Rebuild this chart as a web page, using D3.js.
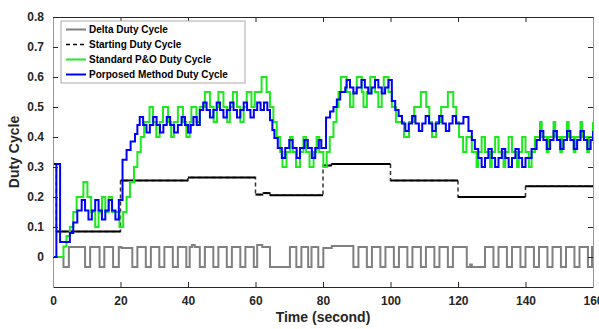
<!DOCTYPE html>
<html>
<head>
<meta charset="utf-8">
<script src="https://cdn.jsdelivr.net/npm/d3@7"></script>
<style>
  body { margin: 0; background: #fff; }
  svg { font-family: "Liberation Sans", Arial, sans-serif; font-weight: bold; }
</style>
</head>
<body>
<div class="chart"></div>
<script>
// -----------------------------------------------------------------------
// Data (stairs: each value holds from its time until the next time)
// -----------------------------------------------------------------------

const xTicks = [0, 20, 40, 60, 80, 100, 120, 140, 160];
const yTicks = [0, 0.1, 0.2, 0.3, 0.4, 0.5, 0.6, 0.7, 0.8];
const legendLabels = ["Delta Duty Cycle", "Starting Duty Cycle", "Standard P&O Duty Cycle", "Porposed Method Duty Cycle"];

// starting duty cycle
const startT = [0, 1, 20, 40, 60, 62.3, 64.3, 80, 82.5, 100, 120, 140, 160];
const startV = [0.31, 0.085, 0.255, 0.265, 0.208, 0.213, 0.206, 0.305, 0.31, 0.255, 0.2, 0.236, 0.236];

// delta duty cycle
const deltaT = [0, 3.1, 4.7, 9.5, 11, 13.8, 15.2, 17.8, 19.5, 20.3, 23.5, 25, 27.5, 29, 31.5, 33, 35.5, 37, 39.5, 40.5, 41.2, 42, 43.5, 45, 47.5, 49, 51.5, 53, 55.5, 57, 59.5, 60.5, 62, 64.3, 70.2, 72.1, 73.6, 75.6, 76.6, 78.6, 80.1, 82.6, 89, 90.5, 93, 94.5, 97, 98.5, 101, 102.5, 105, 106.5, 109, 110.5, 113, 114.5, 117, 118.5, 122.6, 123.6, 124.1, 128, 130.5, 132, 134.5, 136, 138.5, 140, 142.5, 144, 146.5, 148, 150.5, 152, 154.5, 156, 158.5, 159.7, 160];
const deltaV = [0, -0.033, 0.033, -0.033, 0.033, -0.033, 0.033, -0.033, 0.033, 0.03, -0.033, 0.033, -0.033, 0.033, -0.033, 0.033, -0.033, 0.033, -0.033, 0.033, 0.04, 0.033, -0.033, 0.033, -0.033, 0.033, -0.033, 0.033, -0.033, 0.033, -0.033, 0.04, 0.033, -0.033, 0.033, -0.033, 0.033, -0.033, 0.033, -0.033, 0.03, 0.037, -0.033, 0.033, -0.033, 0.033, -0.033, 0.033, -0.033, 0.033, -0.033, 0.033, -0.033, 0.033, -0.033, 0.033, -0.033, 0.033, -0.033, -0.025, -0.033, 0.033, -0.033, 0.033, -0.033, 0.033, -0.033, 0.033, -0.033, 0.033, -0.033, 0.033, -0.033, 0.033, -0.033, 0.033, -0.033, 0.033, 0.033];

// standard P&O duty cycle
const poT = [0, 3.1, 4, 5, 6, 7, 9, 10.2, 11.3, 12.5, 13.5, 14.5, 15.5, 16.5, 17.5, 18.5, 19.7, 20.8, 21.8, 22.8, 24, 25, 26, 27, 28.6, 29.6, 30.6, 31.6, 32.6, 34.1, 35, 35.8, 37, 38.5, 39.5, 40.5, 41, 42.5, 43.5, 45, 46.5, 47.6, 48.6, 49, 50.5, 51.6, 52.4, 53.3, 54.5, 55.5, 56.5, 57.4, 58.8, 59.8, 61.8, 63.3, 64.3, 65.3, 66.3, 67.3, 68, 69.2, 70.2, 71, 72, 73.2, 74.2, 75, 76, 77.2, 78.1, 78.9, 80.1, 81.1, 82, 83.1, 84, 84.6, 85.3, 87, 88, 89, 90, 91.5, 92, 93, 94, 95.4, 96.4, 97.4, 98, 99.4, 100.4, 101.6, 102.8, 104, 105.5, 107, 109, 110.6, 111.5, 112.3, 113.5, 115, 117, 118.6, 119.5, 120.3, 121.5, 122.5, 124.1, 125.5, 126, 127, 128, 129.5, 130, 131, 132, 133.5, 134, 135, 136, 137.5, 138, 139, 140, 141, 141.8, 142.8, 144.3, 144.8, 146.3, 146.8, 148.3, 148.8, 150.3, 150.8, 152.3, 152.8, 154.3, 154.8, 156.3, 156.8, 158.3, 158.8, 160];
const poV = [0, 0.035, 0.07, 0.1, 0.15, 0.2, 0.25, 0.2, 0.15, 0.1, 0.15, 0.2, 0.15, 0.2, 0.15, 0.15, 0.1, 0.15, 0.2, 0.25, 0.3, 0.35, 0.4, 0.45, 0.5, 0.45, 0.4, 0.45, 0.5, 0.45, 0.4, 0.45, 0.5, 0.45, 0.4, 0.45, 0.5, 0.45, 0.5, 0.55, 0.5, 0.45, 0.5, 0.55, 0.5, 0.45, 0.5, 0.55, 0.5, 0.45, 0.5, 0.55, 0.5, 0.55, 0.6, 0.55, 0.5, 0.45, 0.4, 0.35, 0.3, 0.35, 0.4, 0.35, 0.3, 0.35, 0.4, 0.35, 0.3, 0.35, 0.4, 0.35, 0.3, 0.35, 0.4, 0.45, 0.5, 0.55, 0.6, 0.55, 0.5, 0.55, 0.6, 0.55, 0.5, 0.55, 0.6, 0.55, 0.5, 0.55, 0.6, 0.55, 0.5, 0.45, 0.45, 0.4, 0.45, 0.5, 0.55, 0.5, 0.45, 0.4, 0.45, 0.5, 0.55, 0.5, 0.45, 0.4, 0.35, 0.4, 0.35, 0.3, 0.35, 0.4, 0.35, 0.3, 0.35, 0.4, 0.35, 0.3, 0.35, 0.4, 0.35, 0.3, 0.35, 0.4, 0.35, 0.3, 0.35, 0.4, 0.45, 0.4, 0.35, 0.4, 0.45, 0.4, 0.35, 0.4, 0.45, 0.4, 0.35, 0.4, 0.45, 0.4, 0.35, 0.4, 0.45, 0.45];

// proposed method duty cycle
const pmT = [0, 1, 2.1, 5, 6, 7.2, 8.5, 9.5, 10.5, 11.5, 12.5, 13.5, 14.5, 15.5, 16.5, 17.5, 18.5, 19.5, 20.6, 21.8, 23, 24.3, 25, 25.7, 26.7, 27.7, 28.7, 29.7, 30.7, 31.7, 32.7, 33.7, 34.7, 35.9, 37, 38.1, 39.1, 40, 40.8, 41.6, 42.6, 43.5, 44.5, 45.5, 46.5, 47.5, 48.5, 49.5, 50.5, 51.5, 52.5, 53.5, 54.5, 55.5, 56.5, 57.5, 58.5, 59.5, 60.5, 61.5, 62.5, 63.5, 64.3, 65, 65.6, 66.6, 67.8, 68.8, 70, 71, 72.2, 73.2, 74.5, 75.5, 76.7, 77.7, 78.7, 79.5, 80.9, 82.1, 83.1, 84.1, 85.1, 86.6, 87, 88, 89, 90, 91.4, 92.4, 93.4, 94.4, 95.4, 96.4, 97.4, 98.4, 99.4, 100.4, 101.4, 102.4, 103.4, 104.4, 105.4, 106.4, 107.4, 108.4, 109.4, 110.4, 111.4, 112.4, 113.4, 114.4, 115.4, 116.4, 117.4, 118.4, 119.4, 121.6, 123.1, 124.1, 125, 126, 127, 128, 129, 130, 131, 132, 133, 134, 135, 136, 137, 138, 139, 140, 141.8, 143.3, 144.3, 145.3, 146.3, 147.3, 148.3, 149.3, 150.3, 151.3, 152.3, 153.3, 154.3, 155.3, 156.3, 157.3, 158.3, 159.3, 160];
const pmV = [0, 0.31, 0.05, 0.08, 0.115, 0.155, 0.19, 0.155, 0.125, 0.155, 0.19, 0.155, 0.125, 0.155, 0.19, 0.155, 0.125, 0.19, 0.324, 0.357, 0.385, 0.41, 0.44, 0.467, 0.44, 0.415, 0.44, 0.467, 0.44, 0.415, 0.44, 0.467, 0.44, 0.415, 0.44, 0.467, 0.44, 0.415, 0.44, 0.467, 0.44, 0.49, 0.515, 0.49, 0.465, 0.49, 0.515, 0.49, 0.465, 0.49, 0.515, 0.49, 0.465, 0.49, 0.515, 0.49, 0.465, 0.49, 0.515, 0.49, 0.515, 0.49, 0.456, 0.423, 0.397, 0.363, 0.33, 0.363, 0.39, 0.363, 0.33, 0.363, 0.39, 0.363, 0.33, 0.363, 0.39, 0.363, 0.465, 0.485, 0.5, 0.525, 0.55, 0.565, 0.59, 0.565, 0.545, 0.565, 0.59, 0.565, 0.545, 0.565, 0.59, 0.565, 0.545, 0.565, 0.59, 0.52, 0.49, 0.47, 0.445, 0.42, 0.445, 0.47, 0.445, 0.42, 0.445, 0.47, 0.445, 0.42, 0.445, 0.47, 0.445, 0.42, 0.445, 0.47, 0.445, 0.467, 0.42, 0.39, 0.36, 0.33, 0.3, 0.33, 0.36, 0.33, 0.3, 0.33, 0.36, 0.33, 0.3, 0.33, 0.36, 0.33, 0.3, 0.33, 0.36, 0.39, 0.42, 0.39, 0.36, 0.39, 0.42, 0.39, 0.36, 0.39, 0.42, 0.39, 0.36, 0.39, 0.42, 0.39, 0.36, 0.39, 0.42, 0.42];

// -----------------------------------------------------------------------
// Layout
// -----------------------------------------------------------------------

const WIDTH = 599;
const HEIGHT = 329;
const margin = { left: 53, right: 6, top: 17, bottom: 42 };

const svg = d3.select(".chart")
  .append("svg")
  .attr("width", WIDTH)
  .attr("height", HEIGHT);

const xScale = d3.scaleLinear().domain([0, 160]).range([margin.left, WIDTH - margin.right]);
const yScale = d3.scaleLinear().domain([-0.1, 0.8]).range([HEIGHT - margin.bottom, margin.top]);

const zip = (t, v) => t.map((d, i) => [d, v[i]]);

const stairs = d3.line()
  .x(d => xScale(d[0]))
  .y(d => yScale(d[1]))
  .curve(d3.curveStepAfter);

const plot = svg.append("g");

// delta (gray)
plot.append("path")
  .attr("d", stairs(zip(deltaT, deltaV)))
  .attr("fill", "none")
  .attr("stroke", "#808080")
  .attr("stroke-width", 2);

// starting duty cycle: dashed stairs, then solid flat parts on top
const startData = zip(startT, startV);
plot.append("path")
  .attr("d", stairs(startData))
  .attr("fill", "none")
  .attr("stroke", "#333")
  .attr("stroke-width", 1.5)
  .attr("stroke-dasharray", "4,3");
plot.selectAll(".flat")
  .data(startData.slice(0, -1))
  .join("line")
  .attr("class", "flat")
  .attr("x1", d => xScale(d[0]))
  .attr("x2", (d, i) => xScale(startData[i + 1][0]))
  .attr("y1", d => yScale(d[1]))
  .attr("y2", d => yScale(d[1]))
  .attr("stroke", "#000")
  .attr("stroke-width", 2);

// standard P&O (green)
plot.append("path")
  .attr("d", stairs(zip(poT, poV)))
  .attr("fill", "none")
  .attr("stroke", "#1ee81e")
  .attr("stroke-width", 2);

// proposed method (blue)
plot.append("path")
  .attr("d", stairs(zip(pmT, pmV)))
  .attr("fill", "none")
  .attr("stroke", "#0000ff")
  .attr("stroke-width", 2);

// axes, ticks inward on all sides
const axisColor = "#262626";
const x0 = xScale.range()[0], x1 = xScale.range()[1];
const y0 = yScale.range()[0], y1 = yScale.range()[1];

const xAxis = svg.append("g")
  .attr("transform", `translate(0, ${y0})`)
  .call(d3.axisBottom(xScale).tickValues(xTicks).tickSizeInner(-5).tickSizeOuter(0).tickPadding(9));
const xAxisTop = svg.append("g")
  .attr("transform", `translate(0, ${y1})`)
  .call(d3.axisTop(xScale).tickValues(xTicks).tickSizeInner(-5).tickSizeOuter(0).tickFormat(""));
const yAxis = svg.append("g")
  .attr("transform", `translate(${x0}, 0)`)
  .call(d3.axisLeft(yScale).tickValues(yTicks).tickSizeInner(-5).tickSizeOuter(0).tickPadding(9)
    .tickFormat(d => d === 0 ? "0" : d3.format(".1f")(d)));
const yAxisRight = svg.append("g")
  .attr("transform", `translate(${x1}, 0)`)
  .call(d3.axisRight(yScale).tickValues(yTicks).tickSizeInner(-5).tickSizeOuter(0).tickFormat(""));

[xAxis, xAxisTop, yAxis, yAxisRight].forEach(g => {
  g.selectAll("line").attr("stroke", axisColor);
  g.selectAll("text").attr("fill", "#262626").attr("font-size", 12).attr("font-weight", "bold")
    .attr("font-family", "Liberation Sans, Arial, sans-serif");
});
xAxis.select(".domain").attr("stroke", axisColor);
xAxisTop.select(".domain").attr("stroke", axisColor);
yAxis.select(".domain").attr("stroke", "#999");
yAxisRight.select(".domain").attr("stroke", "#999");

// axis titles
svg.append("text")
  .attr("x", (x0 + x1) / 2)
  .attr("y", 322)
  .attr("text-anchor", "middle")
  .attr("font-size", 14)
  .attr("fill", "#262626")
  .text("Time (second)");
svg.append("text")
  .attr("transform", `translate(19, ${(y0 + y1) / 2}) rotate(-90)`)
  .attr("text-anchor", "middle")
  .attr("font-size", 14)
  .attr("fill", "#262626")
  .text("Duty Cycle");

// legend
const legend = svg.append("g").attr("transform", "translate(61, 21)");
legend.append("rect")
  .attr("width", 184)
  .attr("height", 62)
  .attr("fill", "#fff")
  .attr("stroke", "#aaa")
  .attr("stroke-width", 1);
const legendStyles = [
  { color: "#808080", dash: null },
  { color: "#000", dash: "4,3" },
  { color: "#1ee81e", dash: null },
  { color: "#0000ff", dash: null }
];
const rows = legend.selectAll(".row")
  .data(legendLabels)
  .join("g")
  .attr("class", "row")
  .attr("transform", (d, i) => `translate(0, ${8.5 + i * 15})`);
rows.append("line")
  .attr("x1", 5)
  .attr("x2", 25)
  .attr("stroke", (d, i) => legendStyles[i].color)
  .attr("stroke-width", (d, i) => i === 1 ? 1.5 : 2)
  .attr("stroke-dasharray", (d, i) => legendStyles[i].dash);
rows.append("text")
  .attr("x", 28)
  .attr("dy", "0.35em")
  .attr("font-size", 10)
  .attr("fill", "#000")
  .text(d => d);
</script>
</body>
</html>
